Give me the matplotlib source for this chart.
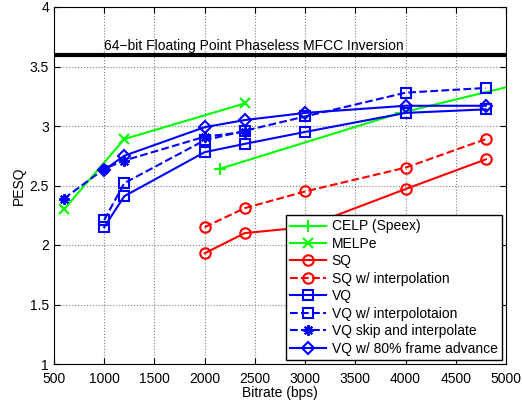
import matplotlib
matplotlib.use('Agg')
import matplotlib.pyplot as plt

plt.rcParams['font.family'] = ['Liberation Sans', 'DejaVu Sans']

celp_x = [2150, 3950, 5950]
celp_y = [2.64, 3.11, 3.52]
melpe_x = [600, 1200, 2400]
melpe_y = [2.30, 2.89, 3.19]
sq_x = [2000, 2400, 3000, 4000, 4800]
sq_y = [1.93, 2.10, 2.15, 2.47, 2.72]
sq_interp_y = [2.15, 2.31, 2.45, 2.65, 2.89]
vq_x = [1000, 1200, 2000, 2400, 3000, 4000, 4800]
vq_y = [2.15, 2.41, 2.78, 2.85, 2.95, 3.11, 3.14]
vq_interp_y = [2.21, 2.52, 2.88, 2.96, 3.08, 3.28, 3.32]
vq_skip_x = [600, 1000, 1200, 2000, 2400]
vq_skip_y = [2.39, 2.64, 2.71, 2.91, 2.95]
vq_adv_x = [1000, 1200, 2000, 2400, 3000, 4000, 4800]
vq_adv_y = [2.63, 2.75, 2.99, 3.05, 3.11, 3.17, 3.17]
ref_level = 3.6
ref_label = '64\u2212bit Floating Point Phaseless MFCC Inversion'

fig = plt.figure(figsize=(5.22, 4.0), dpi=100)
ax = fig.add_axes([0.1034, 0.09, 0.8659, 0.8925])

lw = 1.5
ms = 7.5
g, r, b = (0, 1, 0), (1, 0, 0), (0, 0, 1)

ax.plot(celp_x, celp_y, '-', color=g, lw=lw, marker='+', ms=9, mew=1.5, label='CELP (Speex)')
ax.plot(melpe_x, melpe_y, '-', color=g, lw=lw, marker='x', ms=ms, mew=1.5, label='MELPe')
ax.plot(sq_x, sq_y, '-', color=r, lw=lw, marker='o', ms=ms, mfc='none', mew=1.5, label='SQ')
ax.plot(sq_x, sq_interp_y, '--', color=r, lw=lw, marker='o', ms=ms, mfc='none', mew=1.5,
        label='SQ w/ interpolation')
ax.plot(vq_x, vq_y, '-', color=b, lw=lw, marker='s', ms=ms, mfc='none', mew=1.5, label='VQ')
ax.plot(vq_x, vq_interp_y, '--', color=b, lw=lw, marker='s', ms=ms, mfc='none', mew=1.5,
        label='VQ w/ interpolotaion')
ax.plot(vq_skip_x, vq_skip_y, '--', color=b, lw=lw, marker=(8, 2, 0), ms=ms, mew=1.5,
        label='VQ skip and interpolate')
ax.plot(vq_adv_x, vq_adv_y, '-', color=b, lw=lw, marker='D', ms=6.5, mfc='none', mew=1.5,
        label='VQ w/ 80% frame advance')

ax.axhline(ref_level, color='k', lw=3)
ax.text(1000, ref_level + 0.01, ref_label, fontsize=10, va='bottom', ha='left')

ax.set_xlim(500, 5000)
ax.set_ylim(1, 4)
ax.set_xticks(range(500, 5001, 500))
ax.set_yticks([1, 1.5, 2, 2.5, 3, 3.5, 4])
ax.set_yticklabels(['1', '1.5', '2', '2.5', '3', '3.5', '4'])
ax.grid(True, linestyle=':', color='0.5', lw=0.8)
ax.tick_params(direction='in', top=True, right=True, labelsize=10, length=4)
ax.tick_params(axis='x', pad=6)
ax.set_xlabel('Bitrate (bps)', fontsize=10, labelpad=0)
ax.set_ylabel('PESQ', fontsize=10, labelpad=3)

leg = ax.legend(loc='lower right', fontsize=10, fancybox=False, framealpha=1,
                edgecolor='k', borderaxespad=0.3, handlelength=2.6,
                labelspacing=0.25, borderpad=0.3, handletextpad=0.4)
leg.get_frame().set_linewidth(1.0)

fig.savefig('out.png', dpi=100)
